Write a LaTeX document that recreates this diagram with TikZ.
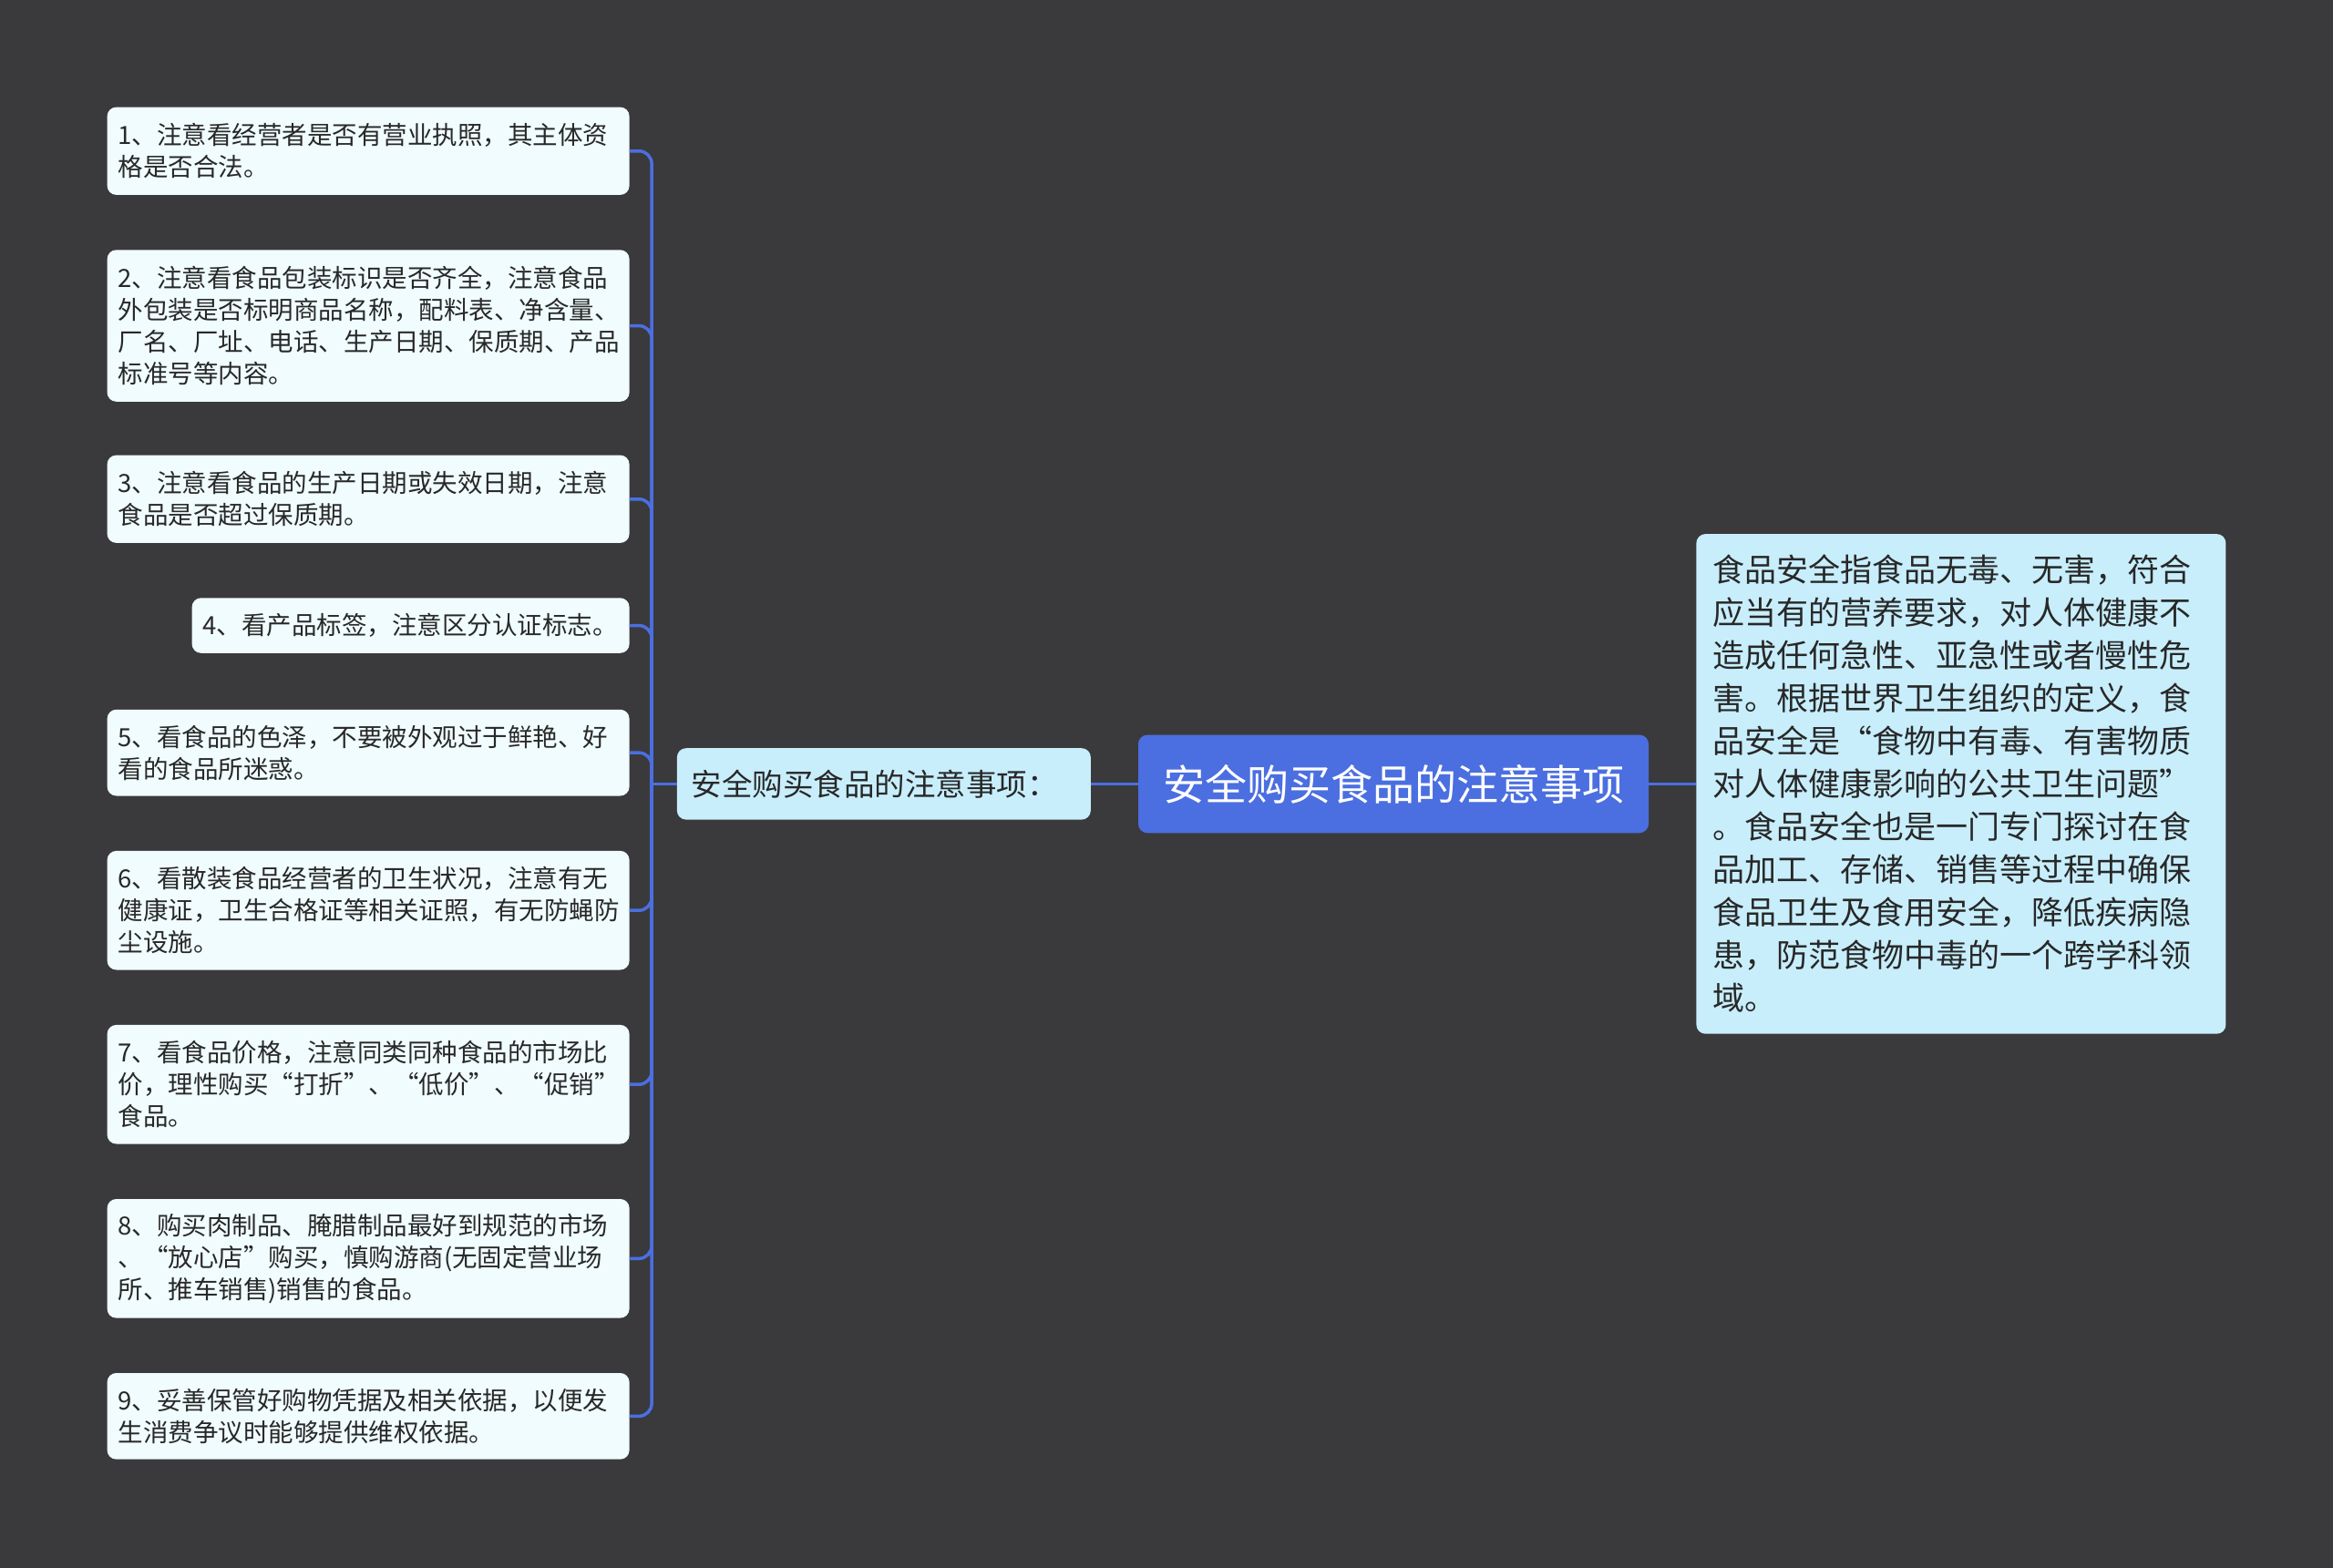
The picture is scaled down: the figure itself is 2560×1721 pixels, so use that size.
\documentclass[tikz,border=0pt]{standalone}
\usepackage{fontspec}
\setmainfont{Noto Sans CJK SC}
\definecolor{bg}{RGB}{58,57,60}
\definecolor{leaffill}{RGB}{240,252,253}
\definecolor{lightfill}{RGB}{200,238,252}
\definecolor{rootfill}{RGB}{75,111,224}
\definecolor{conncol}{RGB}{75,111,224}
\definecolor{txt}{RGB}{40,40,40}
\begin{document}
\begin{tikzpicture}[x=1pt,y=-1pt,
  leaf/.style={rounded corners=10pt, fill=leaffill, inner xsep=12pt, inner ysep=0pt,
    align=left, text width=549pt, text=txt, font=\fontsize{27.5}{35}\selectfont},
  leafshort/.style={leaf, text width=456pt},
  mid/.style={rounded corners=10pt, fill=lightfill, inner xsep=16pt, inner ysep=0pt,
    align=left, text width=422pt, text=txt, font=\fontsize{33.5}{40}\selectfont},
  rootbox/.style={rounded corners=10pt, fill=rootfill, inner sep=0pt, align=center,
    text=white, font=\fontsize{46}{52}\selectfont},
  info/.style={rounded corners=10pt, fill=lightfill, inner xsep=18pt, inner ysep=0pt,
    align=left, text width=545pt, text=txt, font=\fontsize{35}{47}\selectfont},
  conn/.style={draw=conncol, line width=3.5pt, rounded corners=14pt}]
\fill[bg] (0,0) rectangle (2560,1721);
\useasboundingbox (0,0) rectangle (2560,1721);

\node[rootbox, minimum width=560pt, minimum height=107.7pt] (root) at (1529,860.4) {安全购买食品的注意事项};
\node[mid, minimum height=78.4pt] (mid) at (969.85,860.4) {安全购买食品的注意事项：};
\node[info, minimum height=548.6pt] (info) at (2151.9,860.4) {食品安全指食品无毒、无害，符合\\应当有的营养要求，对人体健康不\\造成任何急性、亚急性或者慢性危\\害。根据世界卫生组织的定义，食\\品安全是“食物中有毒、有害物质\\对人体健康影响的公共卫生问题”\\。食品安全也是一门专门探讨在食\\品加工、存储、销售等过程中确保\\食品卫生及食用安全，降低疾病隐\\患，防范食物中毒的一个跨学科领\\域。};

\node[leaf, minimum height=96.3pt] (b1) at (404.1,165.75) {1、注意看经营者是否有营业执照，其主体资\\格是否合法。};
\node[leaf, minimum height=166.5pt] (b2) at (404.1,357.55) {2、注意看食品包装标识是否齐全，注意食品\\外包装是否标明商品名称，配料表、净含量、\\厂名、厂址、电话、生产日期、保质期、产品\\标准号等内容。};
\node[leaf, minimum height=96.3pt] (b3) at (404.1,547.75) {3、注意看食品的生产日期或失效日期，注意\\食品是否超过保质期。};
\node[leafshort, minimum height=60.5pt] (b4) at (450.6,686.55) {4、看产品标签，注意区分认证标志。};
\node[leaf, minimum height=94.7pt] (b5) at (404.1,826.15) {5、看食品的色泽，不要被外观过于鲜艳、好\\看的食品所迷惑。};
\node[leaf, minimum height=130.6pt] (b6) at (404.1,999.2) {6、看散装食品经营者的卫生状况，注意有无\\健康证，卫生合格证等相关证照，有无防蝇防\\尘设施。};
\node[leaf, minimum height=130.6pt] (b7) at (404.1,1190.2) {7、看食品价格，注意同类同种食品的市场比\\价，理性购买“打折”、“低价”、“促销”\\食品。};
\node[leaf, minimum height=130.6pt] (b8) at (404.1,1381.3) {8、购买肉制品、腌腊制品最好到规范的市场\\、“放心店”购买，慎购游商(无固定营业场\\所、推车销售)销售的食品。};
\node[leaf, minimum height=94.7pt] (b9) at (404.1,1554.35) {9、妥善保管好购物凭据及相关依据，以便发\\生消费争议时能够提供维权依据。};

\coordinate (bus) at (715.1,860.4);

\draw[conn] (root.west) -- (mid.east);
\draw[conn] (root.east) -- (info.west);
\draw[conn] (mid.west) -- (bus);
\foreach \b in {b1,b2,b3,b4,b5,b6,b7,b8,b9}{
  \draw[conn] (bus) -- (bus |- \b.east) -- (\b.east);
}
\end{tikzpicture}
\end{document}
